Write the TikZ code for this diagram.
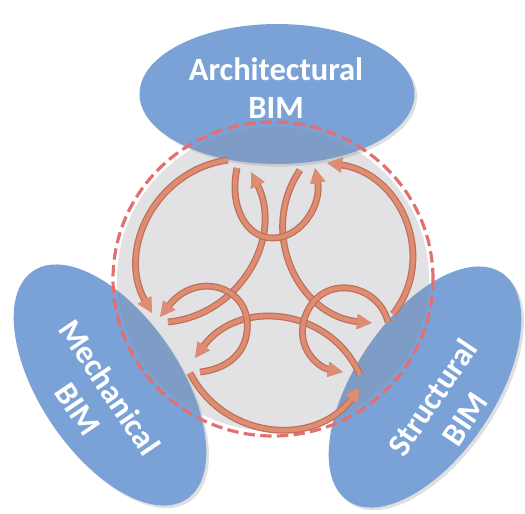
\documentclass[tikz,border=0pt]{standalone}
\usepackage{fontspec}
\setmainfont{Carlito}
\usepackage{tikz}
\usetikzlibrary{
    arrows.meta,
    shapes.geometric,
    shadows
}
\definecolor{bimblue}{RGB}{122,162,214}
\definecolor{hubgray}{RGB}{140,140,150}
\definecolor{ringred}{RGB}{226,112,112}
\definecolor{flowfill}{RGB}{222,140,114}
\definecolor{flowedge}{RGB}{188,112,88}
\tikzset{
    bim/.style={ellipse, fill=bimblue, minimum width=5.5cm, minimum height=2.8cm, inner sep=0pt,
        drop shadow={opacity=0.25, shadow xshift=1.5pt, shadow yshift=-1.5pt}},
    bimtext/.style={text=white, align=center, font=\fontsize{18.5}{22}\selectfont\bfseries},
    flow/.style={draw=flowfill, line width=2.5pt, preaction={draw=flowedge, line width=3.9pt}},
    head/.style={-{Triangle[length=8.5pt, width=8pt]}}
}

\begin{document}
\begin{tikzpicture}[x=0.02cm, y=-0.02cm]
                        \useasboundingbox (0,0) rectangle (525,514);

                        \node[bim] (arch) at (277,94) {};
                        \node[bim, rotate=-56] (mech) at (110,385) {};
                        \node[bim, rotate=56] (stru) at (425,387) {};

                        \fill[hubgray, fill opacity=0.25] (273,279) ellipse [x radius=156, y radius=152];
                        \draw[ringred, line width=1.8pt, dash pattern=on 6.5pt off 3pt] (273,279) ellipse [x radius=160, y radius=157];

                        \coordinate (arch-a) at (228,160);
                        \coordinate (arch-b) at (237,168);
                        \coordinate (arch-c) at (251,172);
                        \coordinate (arch-d) at (300,170);
                        \coordinate (arch-e) at (315,168);
                        \coordinate (arch-f) at (327,163);
                        \coordinate (mech-a) at (152,313);
                        \coordinate (mech-b) at (160,317);
                        \coordinate (mech-c) at (168,322);
                        \coordinate (mech-d) at (195,358);
                        \coordinate (mech-e) at (200,372);
                        \coordinate (mech-f) at (190,373);
                        \coordinate (stru-a) at (393,314);
                        \coordinate (stru-b) at (388,322);
                        \coordinate (stru-c) at (372,323);
                        \coordinate (stru-d) at (360,375);
                        \coordinate (stru-e) at (343,372);
                        \coordinate (stru-f) at (360,387);

                        \draw[flow, head] (arch-a) .. controls (156,170) and (116,250) .. (mech-a);
                        \draw[flow, head] (stru-a) .. controls (438,257) and (401,173) .. (arch-f);
                        \draw[flow, head] (mech-f) .. controls (224,440) and (316,448) .. (stru-f);

                        \draw[flow, head] (mech-c) .. controls (240,315) and (284,237) .. (arch-c);
                        \draw[flow, head] (arch-d) .. controls (258,232) and (298,316) .. (stru-c);
                        \draw[flow, head] (stru-d) .. controls (330,307) and (238,298) .. (mech-d);

                        \draw[flow, head] (arch-b) .. controls (229,205) and (245,238) .. (273,238) .. controls (301,238) and (322,205) .. (arch-e);
                        \draw[flow, head] (mech-e) .. controls (235,368) and (250,345) .. (247,320) .. controls (243,285) and (195,272) .. (mech-b);
                        \draw[flow, head] (stru-b) .. controls (378,282) and (318,272) .. (304,320) .. controls (296,350) and (320,368) .. (stru-e);

                        \node[bimtext] (arch-label) at (276,88) {Architectural\\BIM};
                        \node[bimtext, rotate=-56] (mech-label) at (94,398) {Mechanical\\BIM};
                        \node[bimtext, rotate=56] (stru-label) at (448,408) {Structural\\BIM};
                    \end{tikzpicture}
\end{document}
